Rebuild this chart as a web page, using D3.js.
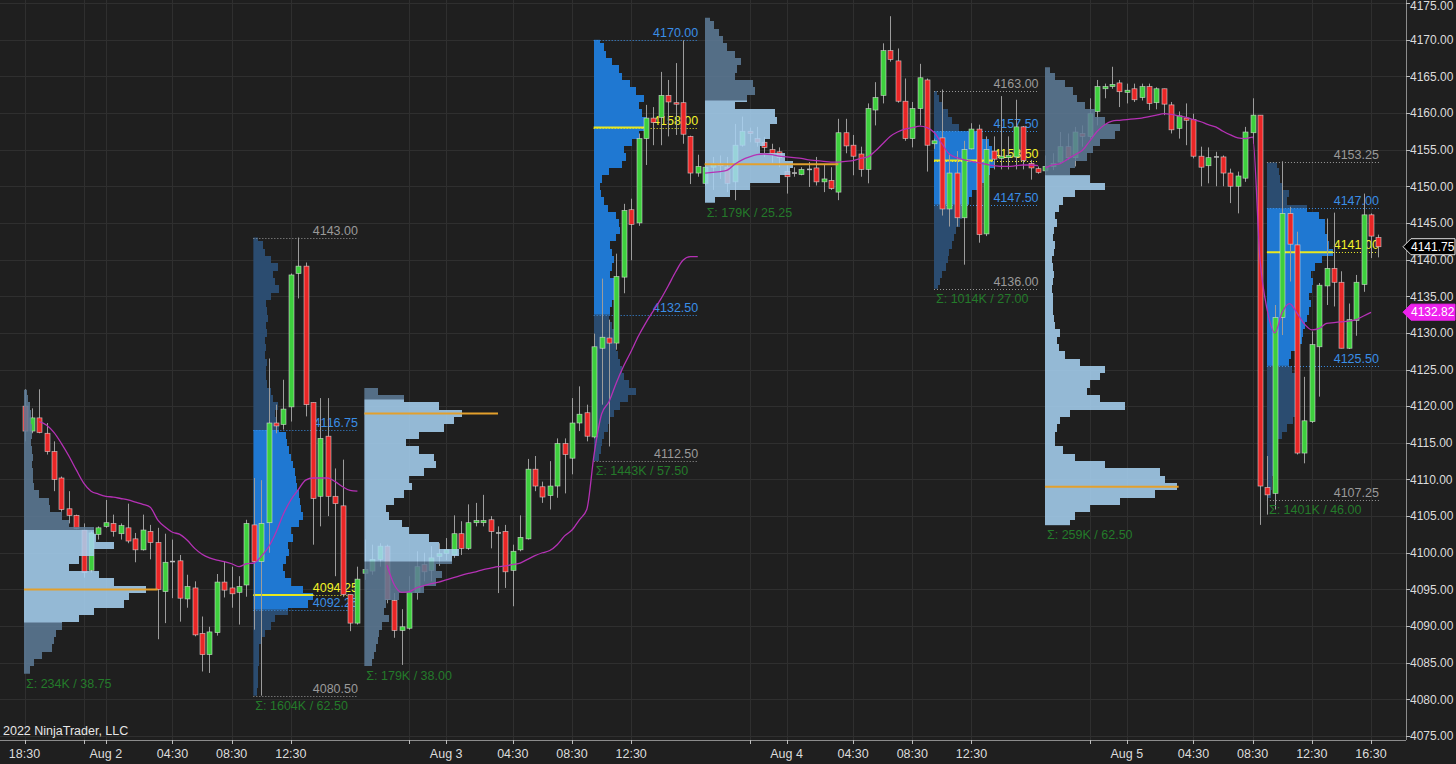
<!DOCTYPE html>
<html><head><meta charset="utf-8">
<script src="https://cdn.jsdelivr.net/npm/d3@7"></script>
<style>html,body{margin:0;padding:0;background:#1f1f1f;overflow:hidden}svg{display:block}</style>
</head><body><svg id="c" width="1456" height="764"></svg>
<script>
// ---------- DATA ----------
const opens=[4120.0,4116.6,4118.4,4116.3,4113.8,4110.2,4106.0,4105.1,4103.1,4097.6,4102.5,4103.6,4104.0,4102.6,4103.4,4101.9,4100.4,4102.9,4101.4,4094.7,4098.8,4098.9,4093.7,4095.2,4089.0,4086.1,4089.1,4096.0,4095.2,4094.6,4095.6,4103.8,4098.8,4104.1,4117.7,4117.5,4119.9,4138.1,4139.1,4120.5,4107.7,4115.9,4107.7,4106.4,4094.3,4090.4,
4097.2,4097.5,4099.1,4100.9,4093.5,4089.4,4089.7,4094.6,4098.4,4097.6,4099.5,4099.9,4099.7,4102.6,4100.6,4104.1,4104.1,4104.5,4102.7,4102.9,4097.6,4100.4,4101.9,4111.4,4109.0,4107.8,4109.1,4114.9,4112.9,4117.7,4119.1,4115.8,4127.9,4129.3,4128.6,4137.6,4146.8,4145.0,4156.5,4159.3,4159.4,4162.4,4161.4,4161.4,4156.8,4151.8,
4150.4,4152.6,4153.1,4152.6,4150.6,4155.6,4157.5,4156.5,4156.0,4155.0,4154.7,4152.0,4151.8,4151.6,4152.3,4152.5,4150.6,4150.8,4149.2,4157.3,4155.6,4154.4,4152.3,4160.4,4162.4,4168.5,4167.1,4161.6,4156.5,4160.6,4164.5,4155.8,4156.6,4146.9,4151.8,4145.7,4155.1,4157.8,4143.5,4154.8,4153.8,4153.9,4154.0,4158.1,4153.1,4152.4,
4152.1,4152.7,4153.3,4155.4,4153.9,4157.2,4156.8,4160.2,4163.3,4163.6,4164.1,4162.8,4163.3,4162.1,4163.6,4161.4,4163.3,4161.1,4157.9,4159.3,4159.1,4154.1,4152.8,4154.0,4154.0,4151.8,4150.0,4151.1,4157.3,4159.7,4108.9,4108.1,4132.1,4146.3,4142.0,4113.6,4117.9,4128.1,4136.4,4138.8,4136.9,4127.9,4131.7,4136.6,4146.1,4143.0];
const highs=[4122.3,4119.7,4122.3,4117.7,4115.2,4110.4,4108.4,4105.2,4104.0,4102.9,4103.6,4107.2,4105.2,4104.0,4106.7,4102.7,4105.2,4103.8,4103.4,4102.6,4101.8,4099.7,4097.0,4096.1,4091.3,4089.9,4097.1,4098.8,4098.1,4096.8,4104.5,4110.2,4109.9,4126.5,4120.2,4123.6,4138.1,4143.0,4139.6,4120.5,4121.1,4121.1,4111.5,4112.7,4094.3,4098.1,
4101.8,4101.1,4101.3,4101.1,4094.5,4092.3,4096.8,4100.2,4100.0,4100.9,4101.3,4102.0,4105.1,4104.3,4106.6,4106.8,4107.9,4105.0,4103.6,4103.8,4101.1,4105.1,4112.8,4113.2,4109.7,4112.5,4115.6,4115.6,4121.1,4122.7,4120.2,4129.9,4137.4,4131.8,4140.8,4147.6,4148.3,4157.2,4161.1,4160.8,4165.6,4164.5,4166.8,4169.9,4156.9,4154.3,
4153.3,4154.0,4154.2,4154.0,4158.5,4159.5,4158.0,4158.1,4156.7,4155.8,4155.3,4152.9,4152.6,4152.6,4153.3,4154.0,4152.9,4152.6,4159.2,4159.2,4157.0,4155.4,4161.3,4164.2,4169.5,4173.2,4168.8,4164.7,4161.5,4166.7,4164.7,4156.5,4163.2,4154.5,4154.8,4156.2,4158.6,4158.4,4156.8,4156.8,4162.3,4156.8,4161.8,4158.2,4153.6,4152.7,
4154.2,4154.5,4157.4,4157.2,4158.1,4158.3,4162.0,4164.5,4164.0,4166.3,4164.5,4164.0,4164.0,4164.0,4164.0,4163.5,4163.3,4161.5,4160.2,4161.3,4159.9,4155.4,4155.3,4154.7,4154.2,4152.4,4152.0,4158.1,4162.0,4159.7,4113.2,4133.8,4153.4,4147.2,4143.8,4124.0,4130.2,4136.8,4145.6,4146.4,4138.4,4134.0,4137.9,4149.0,4146.3,4143.4];
const lows=[4115.2,4116.3,4116.3,4113.4,4108.4,4105.6,4104.0,4103.2,4096.6,4097.3,4101.8,4103.4,4102.2,4101.8,4101.3,4098.7,4100.3,4099.1,4088.2,4090.4,4093.8,4090.6,4092.5,4088.6,4083.8,4083.6,4088.7,4093.9,4092.5,4090.2,4094.0,4089.5,4080.5,4100.0,4116.3,4116.8,4117.9,4134.7,4118.6,4101.1,4103.6,4105.0,4096.8,4094.0,4089.3,4090.2,
4096.3,4097.0,4098.1,4093.1,4088.4,4084.7,4089.5,4093.6,4096.1,4096.1,4098.2,4099.0,4099.3,4099.7,4100.4,4103.6,4103.6,4100.6,4094.5,4095.2,4092.7,4100.2,4101.8,4108.4,4106.8,4105.9,4107.5,4108.1,4110.7,4116.6,4115.2,4115.6,4120.2,4114.5,4127.7,4135.4,4139.9,4144.6,4152.9,4155.6,4155.6,4156.8,4157.0,4155.8,4150.3,4151.3,
4150.1,4149.5,4151.0,4149.2,4148.1,4155.4,4156.0,4155.4,4154.0,4153.2,4152.6,4149.0,4151.3,4151.5,4149.9,4150.1,4149.2,4149.5,4148.1,4154.5,4151.5,4151.3,4150.4,4158.3,4161.3,4167.0,4161.4,4156.2,4155.3,4158.3,4152.0,4155.1,4146.0,4144.5,4144.5,4139.3,4155.0,4142.3,4143.2,4152.3,4152.3,4152.3,4152.3,4152.3,4150.9,4151.7,
4151.5,4152.2,4153.1,4153.6,4152.7,4155.4,4156.3,4158.3,4162.0,4163.3,4160.8,4161.3,4161.5,4161.7,4160.4,4160.5,4159.7,4157.2,4156.5,4155.6,4153.8,4150.0,4150.4,4150.0,4150.0,4147.7,4146.3,4150.6,4155.8,4103.8,4105.2,4105.9,4129.7,4137.0,4113.4,4112.2,4117.7,4121.3,4133.8,4133.6,4127.9,4127.8,4129.6,4135.6,4140.2,4140.3];
const closes=[4116.6,4118.4,4116.4,4113.8,4110.0,4105.9,4105.1,4103.3,4097.3,4102.7,4103.4,4104.1,4102.9,4103.7,4101.6,4100.4,4103.1,4101.4,4095.0,4098.7,4098.9,4093.8,4095.4,4088.8,4086.1,4089.2,4096.0,4094.9,4094.4,4095.4,4104.0,4098.8,4104.0,4117.7,4117.3,4119.6,4137.9,4139.1,4120.2,4107.4,4115.6,4107.7,4106.7,4094.3,4090.4,4096.4,
4097.7,4099.1,4100.9,4093.6,4089.4,4089.9,4094.6,4098.1,4097.4,4099.3,4099.9,4100.4,4102.6,4100.6,4104.1,4104.4,4104.4,4102.9,4102.7,4097.4,4100.2,4102.1,4111.4,4109.1,4107.6,4109.1,4114.9,4113.4,4117.7,4118.9,4115.9,4128.1,4129.4,4128.6,4137.7,4146.7,4144.8,4156.5,4159.3,4158.7,4162.4,4161.5,4161.2,4157.1,4151.8,4152.7,
4152.6,4153.1,4152.8,4150.4,4155.6,4157.5,4157.2,4156.0,4155.3,4154.3,4153.9,4151.3,4151.7,4152.3,4152.2,4150.6,4151.0,4149.7,4157.3,4155.5,4154.1,4152.3,4160.6,4162.1,4168.5,4167.3,4161.6,4156.5,4160.6,4164.8,4155.6,4156.2,4146.9,4151.8,4145.7,4155.0,4157.8,4143.4,4155.0,4153.7,4154.1,4154.2,4158.1,4153.5,4152.5,4151.9,
4152.7,4153.1,4155.4,4153.9,4157.4,4156.8,4159.9,4163.6,4163.6,4163.9,4162.9,4163.1,4161.8,4163.6,4161.3,4163.3,4161.2,4157.7,4159.6,4159.0,4154.1,4152.6,4153.9,4154.0,4151.8,4150.0,4151.4,4157.4,4159.7,4109.1,4107.9,4132.1,4146.3,4142.1,4113.6,4118.0,4128.4,4136.5,4138.8,4136.9,4127.9,4131.8,4136.9,4146.1,4143.2,4141.75];

// VWAP per session (start bar, values)
const vwap1Start=2, vwap1=[4117.9,4117.4,4116.4,4114.9,4113.2,4111.3,4109.5,4108.4,4108.0,4107.7,4107.6,4107.4,4107.2,4106.9,4106.6,4106.2,4104.5,4103.5,4102.8,4102.5,4101.7,4100.6,4099.8,4099.3,4099.0,4098.8,4098.5,4098.1,4098.5,4098.6,4099.5,4100.8,4102.8,4105.3,4107.2,4108.6,4109.9,4110.2,4110.2,4110.2,4109.7,4109.0,4108.5,4108.4];
const vwap2Start=49, vwap2=[4098.3,4095.6,4094.6,4094.7,4095.2,4095.5,4095.8,4096.0,4096.3,4096.6,4096.9,4097.2,4097.4,4097.7,4097.9,4098.1,4098.2,4098.4,4098.6,4099.1,4099.6,4100.0,4100.3,4101.1,4102.3,4103.1,4104.5,4105.9,4113.5,4118.9,4120.6,4123.2,4125.5,4127.5,4129.6,4131.4,4133.0,4134.6,4136.4,4138.3,4139.9,4140.4,4140.4];
const vwap3Start=92, vwap3=[4151.8,4151.9,4152.0,4152.2,4153.0,4153.6,4154.0,4154.3,4154.4,4154.3,4154.1,4154.0,4153.9,4153.8,4153.6,4153.5,4153.4,4153.3,4153.3,4153.4,4153.5,4153.8,4154.0,4154.8,4155.8,4156.8,4157.4,4157.8,4158.0,4158.2,4158.0,4157.3,4155.8,4154.4,4153.9,4153.6,4153.4,4153.2,4153.0,4152.8,4152.7,4152.7,4152.8,4152.9,4152.9,4152.8];
const vwap4Start=138, vwap4=[4152.5,4152.9,4153.1,4153.7,4154.3,4154.9,4156.2,4157.5,4158.4,4158.9,4159.0,4159.1,4159.2,4159.3,4159.5,4159.7,4159.9,4159.8,4159.6,4159.4,4159.1,4158.8,4158.4,4158.1,4157.5,4157.0,4156.6,4156.5,4156.7,4140.0,4133.0,4130.0,4132.8,4134.0,4132.7,4131.2,4130.4,4130.6,4131.3,4131.4,4131.5,4131.6,4131.8,4132.3,4132.8];

// Volume profiles (volume per 1-point bin, from lowest bin upward)
const profA=[6,10,18,28,30,32,38,55,70,100,105,122,90,75,45,55,70,90,72,70,45,38,26,25,15,10,9,9,8,9,8,7,8,8,7,7,6,4,3];
const profB=[4,5,5,5,6,6,6,8,12,18,22,35,55,60,50,38,32,30,33,36,35,40,38,46,50,48,47,46,44,43,42,40,38,36,34,33,26,24,22,25,20,18,14,13,13,14,12,13,12,14,13,15,14,13,18,26,22,20,25,18,12,10,5];
const profC=[8,10,12,14,15,18,25,20,22,35,60,72,78,72,88,95,75,65,45,38,25,22,30,40,48,45,60,72,70,55,42,55,80,90,98,75,40,14];
const profD=[5,7,8,10,14,16,20,26,34,42,35,30,28,26,24,22,20,22,18,15,16,18,20,22,20,16,18,20,18,16,22,26,25,22,14,10,7,6,8,15,28,32,30,38,45,55,52,48,45,50,42,36,28,25,18,12,10,6];
const profE=[10,25,45,75,85,88,80,55,60,65,65,72,70,30,42,50,48,30,32,36,30,22,18,14,9,5];
const profF=[4,6,8,12,14,15,18,20,22,26,28,30,35,38,45,52,56,60,59,58,55,45,25,18,14,8,5,3];
const profG=[25,30,45,75,110,132,120,115,60,30,18,10,10,12,15,25,80,55,42,45,55,60,35,20,14,12,15,10,9,8,8,8,7,8,9,8,7,9,10,8,9,12,10,14,18,30,60,45,25,30,42,48,55,70,75,60,50,40,32,28,20,10,5];
const profH=[4,5,5,6,6,7,8,10,15,20,26,28,30,28,30,32,28,25,22,24,30,35,36,38,40,42,44,42,45,46,44,48,55,66,62,60,58,58,52,40,20,22,15,13,12,10];

const profFirstBin=[4084,4081,4085,4113,4148,4136,4104,4108];
const profStartBar=[0,31,46,77,92,123,138,168];
const profEndBar=[45,45,91,91,137,137,183,183];
const profRange=[[4083.5,4122.25],[4080.5,4143],[4084.5,4122.5],[4112.5,4170],[4147.75,4173],[4136,4163],[4103.75,4166.25],[4107.25,4153.25]];
const profVA=[[4090.5,4103.1],[4092.25,4116.75],[4098.8,4120.9],[4132.5,4170],[4147.75,4161.7],[4147.5,4157.5],[4103.75,4151.5],[4125.5,4147]];
const profPOC=[4095,4094.25,4119,4158,4153,4153.5,4109,4141];
const profSigma=["Σ: 234K / 38.75","Σ: 1604K / 62.50","Σ: 179K / 38.00","Σ: 1443K / 57.50","Σ: 179K / 25.25","Σ: 1014K / 27.00","Σ: 259K / 62.50","Σ: 1401K / 46.00"];
const rthLevels={1:[[4143.00,'g'],[4116.75,'b'],[4094.25,'p'],[4092.25,'b'],[4080.50,'g']],
                 3:[[4170.00,'b'],[4158.00,'p'],[4132.50,'b'],[4112.50,'g']],
                 5:[[4163.00,'g'],[4157.50,'b'],[4153.50,'p'],[4147.50,'b'],[4136.00,'g']],
                 7:[[4153.25,'g'],[4147.00,'b'],[4141.00,'p'],[4125.50,'b'],[4107.25,'g']]};

const timeTickBars=[0,11,20,28,36,57,66,74,82,103,112,120,128,149,158,166,174,182];
const timeTickLabels=["18:30","Aug 2","04:30","08:30","12:30","Aug 3","04:30","08:30","12:30","Aug 4","04:30","08:30","12:30","Aug 5","04:30","08:30","12:30","16:30"];
const extraGridBars=[8,52,98,144];
const priceTicks=[4075,4080,4085,4090,4095,4100,4105,4110,4115,4120,4125,4130,4135,4140,4145,4150,4155,4160,4165,4170,4175];
const lastPrice=4141.75, vwapLast=4132.82;

// ---------- DRAW ----------
const W=1456,H=764, plotRight=1406, axisY=740;
const FONT='"Liberation Sans", Arial, sans-serif';
const FS=12;
const svg=d3.select('#c');
const defs=svg.append('defs');
const x=d3.scaleLinear().domain([0,183]).range([24.5,1378.4]);
const y=d3.scaleLinear().domain([4075,4175]).range([736,3]);
const wScale=d3.scaleLinear().domain([0,100]).range([0,100]);
const fmt=d3.format('.2f');

svg.append('rect').attr('width',W).attr('height',H).attr('fill','#1f1f1f');
const grid=svg.append('g').attr('stroke','#2f2f2f').attr('stroke-width',1);
priceTicks.forEach(p=>{const yy=Math.round(y(p))+0.5;grid.append('line').attr('x1',0).attr('x2',plotRight).attr('y1',yy).attr('y2',yy);});
timeTickBars.concat(extraGridBars).forEach(k=>{const xx=Math.round(x(k))+0.5;grid.append('line').attr('x1',xx).attr('x2',xx).attr('y1',0).attr('y2',axisY);});

const vols=[profA,profB,profC,profD,profE,profF,profG,profH];
function drawProfile(layer,idx,outColor,vaColor){
  const x0=x(profStartBar[idx])-0.5;
  const first=profFirstBin[idx];
  const bins=vols[idx].map((v,i)=>({p:first+i,v}));
  const r=profRange[idx], va=profVA[idx];
  defs.append('clipPath').attr('id','r'+idx).append('rect').attr('x',x0).attr('y',y(r[1])).attr('width',400).attr('height',y(r[0])-y(r[1]));
  defs.append('clipPath').attr('id','v'+idx).append('rect').attr('x',x0).attr('y',y(va[1])).attr('width',400).attr('height',y(va[0])-y(va[1]));
  const g=layer.append('g').attr('clip-path',`url(#r${idx})`);
  [[outColor,null],[vaColor,'v'+idx]].forEach(([col,clip])=>{
    const gg=g.append('g'); if(clip) gg.attr('clip-path',`url(#${clip})`);
    gg.selectAll('rect').data(bins).join('rect')
      .attr('x',x0).attr('y',d=>y(d.p+0.5)).attr('height',d=>y(d.p-0.5)-y(d.p+0.5))
      .attr('width',d=>wScale(d.v)).attr('fill',col).attr('shape-rendering','crispEdges');
  });
  return x0;
}

// RTH profiles (behind candles)
const rthLayer=svg.append('g');
[1,3,5,7].forEach(i=>{
  const x0=drawProfile(rthLayer,i,'#2b4c70','#1f78d2');
  const xe=x(profEndBar[i])+0.5;
  const pocV=vols[i][Math.round(profPOC[i])-profFirstBin[i]];
  rthLevels[i].forEach(([p,t])=>{
    const col=t==='g'?'#9a9a9a':(t==='b'?'#3a8ee6':'#f2f22a');
    const yy=Math.round(y(p))+0.5;
    rthLayer.append('line').attr('x1',x0).attr('x2',xe).attr('y1',yy).attr('y2',yy)
      .attr('stroke',col).attr('stroke-width',1).attr('stroke-dasharray','1,2');
    if(t==='p'){
      rthLayer.append('line').attr('x1',x0).attr('x2',x0+wScale(pocV)).attr('y1',y(p)).attr('y2',y(p))
        .attr('stroke','#e8e820').attr('stroke-width',2);
    }
    rthLayer.append('text').attr('x',xe).attr('y',y(p)-3).attr('text-anchor','end')
      .attr('fill',col).attr('font-family',FONT).attr('font-size',12.5).text(fmt(p));
  });
});

// Candles
const candles=d3.range(opens.length).map(i=>({i,o:opens[i],h:highs[i],l:lows[i],c:closes[i]}));
const cg=svg.append('g');
cg.selectAll('line').data(candles).join('line')
  .attr('x1',d=>Math.round(x(d.i))+0.5).attr('x2',d=>Math.round(x(d.i))+0.5)
  .attr('y1',d=>y(d.h)).attr('y2',d=>y(d.l)).attr('stroke','#9c9c9c').attr('stroke-width',1);
cg.selectAll('rect').data(candles).join('rect')
  .attr('x',d=>Math.round(x(d.i))-2).attr('width',5)
  .attr('y',d=>Math.abs(d.o-d.c)<0.15?y(d.o)-0.75:y(Math.max(d.o,d.c)))
  .attr('height',d=>Math.max(1.5,Math.abs(y(d.o)-y(d.c))))
  .attr('fill',d=>Math.abs(d.o-d.c)<0.15?'#bdbdbd':(d.c>d.o?'#3dcf3d':'#e92626'))
  .attr('stroke',d=>Math.abs(d.o-d.c)<0.15?'none':'#e4e4e4').attr('stroke-width',0.7).attr('stroke-opacity',0.75);

// Overnight profiles (over candles, semi-transparent)
const ethLayer=svg.append('g');
[0,2,4,6].forEach(i=>{
  const g=ethLayer.append('g').attr('opacity',0.85);
  const x0=drawProfile(g,i,'#5e7c98','#a9d4f5');
  ethLayer.append('line').attr('x1',x0).attr('x2',x(profStartBar[i]+18))
    .attr('y1',y(profPOC[i])).attr('y2',y(profPOC[i])).attr('stroke','#e3a02c').attr('stroke-width',2);
});

// VWAP
const vline=d3.line().x(d=>x(d.k)).y(d=>y(d.v)).curve(d3.curveMonotoneX);
[[vwap1Start,vwap1],[vwap2Start,vwap2],[vwap3Start,vwap3],[vwap4Start,vwap4]].forEach(([s,arr])=>{
  svg.append('path').datum(arr.map((v,i)=>({k:s+i,v}))).attr('d',vline)
    .attr('fill','none').attr('stroke','#b531b5').attr('stroke-width',1.3);
});

// Sigma labels
profSigma.forEach((t,i)=>{
  svg.append('text').attr('x',x(profStartBar[i])+1.5).attr('y',y(profRange[i][0])+14)
    .attr('fill','#247a2a').attr('font-family',FONT).attr('font-size',12.5).text(t);
});

// Axes
const ax=svg.append('g');
ax.append('rect').attr('x',plotRight).attr('y',0).attr('width',W-plotRight).attr('height',H).attr('fill','#1f1f1f');
ax.append('rect').attr('x',0).attr('y',axisY).attr('width',W).attr('height',H-axisY).attr('fill','#1f1f1f');
ax.append('line').attr('x1',plotRight+0.5).attr('x2',plotRight+0.5).attr('y1',0).attr('y2',axisY).attr('stroke','#8c8c8c');
ax.append('line').attr('x1',0).attr('x2',plotRight).attr('y1',axisY+0.5).attr('y2',axisY+0.5).attr('stroke','#8c8c8c');
priceTicks.forEach(p=>{
  const yy=Math.round(y(p))+0.5;
  ax.append('line').attr('x1',plotRight).attr('x2',plotRight+4).attr('y1',yy).attr('y2',yy).attr('stroke','#bdbdbd');
  ax.append('text').attr('x',plotRight+4).attr('y',Math.max(y(p),6)).attr('dy','0.36em')
    .attr('fill','#dcdcdc').attr('font-family',FONT).attr('font-size',FS).text(fmt(p));
});
timeTickBars.concat(extraGridBars).forEach(k=>{
  const xx=Math.round(x(k))+0.5;
  ax.append('line').attr('x1',xx).attr('x2',xx).attr('y1',axisY).attr('y2',axisY+4).attr('stroke','#bdbdbd');
});
timeTickBars.forEach((k,i)=>{
  ax.append('text').attr('x',x(k)).attr('y',758).attr('text-anchor','middle')
    .attr('fill','#dcdcdc').attr('font-family',FONT).attr('font-size',12.5).text(timeTickLabels[i]);
});
function priceFlag(p,fill,stroke){
  const yc=y(p), h=8;
  ax.append('path').attr('d',`M${plotRight-3},${yc} L${plotRight+5},${yc-h} L${W-1},${yc-h} L${W-1},${yc+h} L${plotRight+5},${yc+h} Z`)
    .attr('fill',fill).attr('stroke',stroke).attr('stroke-width',1);
  ax.append('text').attr('x',plotRight+5).attr('y',yc).attr('dy','0.36em')
    .attr('fill','#ffffff').attr('font-family',FONT).attr('font-size',FS).text(fmt(p));
}
priceFlag(lastPrice,'#000000','#e6e6e6');
priceFlag(vwapLast,'#ee22ee','#ee22ee');

svg.append('text').attr('x',3).attr('y',735).attr('fill','#e6e6e6')
  .attr('font-family',FONT).attr('font-size',12.5).text('2022 NinjaTrader, LLC');
</script></body></html>
